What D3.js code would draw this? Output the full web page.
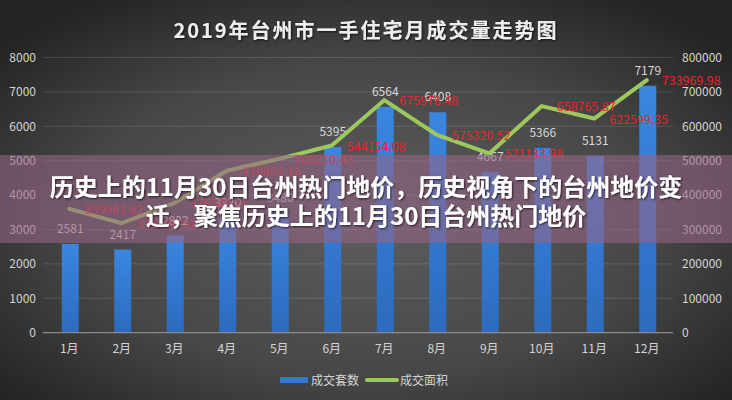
<!DOCTYPE html>
<html>
<head>
<meta charset="utf-8">
<script src="https://cdn.jsdelivr.net/npm/d3@7"></script>
<style>
  html, body { margin: 0; padding: 0; background: #333; }
  svg { display: block; }
  text { font-family: "Noto Sans CJK SC", "Noto Sans", sans-serif; }
</style>
</head>
<body>
<svg id="chart" width="732" height="400"></svg>
<script>
// ---- data ----
const months = ["1月","2月","3月","4月","5月","6月","7月","8月","9月","10月","11月","12月"];
const units = [2581, 2417, 2822, 3320, 3480, 5395, 6564, 6408, 4667, 5366, 5131, 7179];
const areas = [359961.62, 318234.51, 376540.25, 470892.16, 505210.43, 544154.08, 675978.48, 575320.52, 521133.98, 658765.87, 622599.35, 733969.98];
const leftTicks = [0, 1000, 2000, 3000, 4000, 5000, 6000, 7000, 8000];
const rightTicks = [0, 100000, 200000, 300000, 400000, 500000, 600000, 700000, 800000];
const titleText = "2019年台州市一手住宅月成交量走势图";
const seriesNames = ["成交套数", "成交面积"];
const bannerLines = ["历史上的11月30日台州热门地价，历史视角下的台州地价变", "迁，聚焦历史上的11月30日台州热门地价"];

// ---- layout ----
const W = 732, H = 400;
const plot = { left: 43, right: 673, top: 57.5, bottom: 332.7 };

const svg = d3.select("#chart");
const defs = svg.append("defs");

const bg = defs.append("radialGradient").attr("id", "bg")
  .attr("cx", "50%").attr("cy", "55%").attr("r", "65%");
bg.append("stop").attr("offset", "0%").attr("stop-color", "#5d5d5d");
bg.append("stop").attr("offset", "60%").attr("stop-color", "#474747");
bg.append("stop").attr("offset", "100%").attr("stop-color", "#252525");

const barGrad = defs.append("linearGradient").attr("id", "barg")
  .attr("x1", 0).attr("y1", 0).attr("x2", 0).attr("y2", 1);
barGrad.append("stop").attr("offset", "0%").attr("stop-color", "#3a86df");
barGrad.append("stop").attr("offset", "100%").attr("stop-color", "#2c6bbf");

const shadow = defs.append("filter").attr("id", "tshadow")
  .attr("x", "-10%").attr("y", "-30%").attr("width", "120%").attr("height", "160%");
shadow.append("feDropShadow").attr("dx", 1).attr("dy", 1).attr("stdDeviation", 1.2)
  .attr("flood-color", "#000").attr("flood-opacity", 0.7);

svg.append("rect").attr("width", W).attr("height", H).attr("fill", "url(#bg)");

// title
svg.append("text")
  .attr("x", W / 2).attr("y", 38)
  .attr("text-anchor", "middle")
  .attr("font-size", 20).attr("font-weight", "bold")
  .attr("letter-spacing", 2)
  .attr("fill", "#eeeeee")
  .attr("filter", "url(#tshadow)")
  .text(titleText);

// scales
const x = d3.scaleBand().domain(months).range([plot.left, plot.right]).paddingInner(0).paddingOuter(0);
const yL = d3.scaleLinear().domain([0, 8000]).range([plot.bottom, plot.top]);
const yR = d3.scaleLinear().domain([0, 800000]).range([plot.bottom, plot.top]);

// gridlines
svg.append("g").selectAll("line").data(leftTicks.filter(d => d > 0)).join("line")
  .attr("x1", plot.left).attr("x2", plot.right)
  .attr("y1", d => yL(d)).attr("y2", d => yL(d))
  .attr("stroke", "rgba(255,255,255,0.13)").attr("stroke-width", 1);

// left axis
const axL = svg.append("g").attr("transform", `translate(${plot.left - 7},0)`)
  .call(d3.axisLeft(yL).tickValues(leftTicks).tickSize(0).tickPadding(0).tickFormat(d3.format("d")));
axL.select(".domain").remove();
axL.selectAll("text").attr("fill", "#d4d4d4").attr("font-size", 12)
  .style("font-family", "'Noto Sans CJK SC', sans-serif");

// right axis
const axR = svg.append("g").attr("transform", `translate(${plot.right + 9},0)`)
  .call(d3.axisRight(yR).tickValues(rightTicks).tickSize(0).tickPadding(0).tickFormat(d3.format("d")));
axR.select(".domain").remove();
axR.selectAll("text").attr("fill", "#d4d4d4").attr("font-size", 12)
  .style("font-family", "'Noto Sans CJK SC', sans-serif");

// bars
const barW = 17;
svg.append("g").selectAll("rect").data(units).join("rect")
  .attr("x", (d, i) => x(months[i]) + x.bandwidth() / 2 - barW / 2 + 1)
  .attr("y", d => yL(d))
  .attr("width", barW)
  .attr("height", d => yL(0) - yL(d))
  .attr("fill", "url(#barg)");

// baseline
svg.append("line").attr("x1", plot.left).attr("x2", plot.right)
  .attr("y1", yL(0)).attr("y2", yL(0))
  .attr("stroke", "#8a8a8a").attr("stroke-width", 1.2);

// bottom axis labels
const axB = svg.append("g").attr("transform", `translate(0,${plot.bottom + 6})`)
  .call(d3.axisBottom(x).tickSize(0).tickPadding(6));
axB.select(".domain").remove();
axB.selectAll("text").attr("fill", "#d4d4d4").attr("font-size", 12)
  .style("font-family", "'Noto Sans CJK SC', sans-serif");

// bar labels
svg.append("g").selectAll("text").data(units).join("text")
  .attr("x", (d, i) => x(months[i]) + x.bandwidth() / 2 + 1)
  .attr("y", d => yL(d) - 11)
  .attr("text-anchor", "middle")
  .attr("font-size", 12)
  .attr("fill", "#d8d8d8")
  .text(d => d);

// line
const line = d3.line()
  .x((d, i) => x(months[i]) + x.bandwidth() / 2)
  .y(d => yR(d));
svg.append("path").datum(areas)
  .attr("d", line)
  .attr("fill", "none")
  .attr("stroke", "#9cc85c")
  .attr("stroke-width", 4)
  .attr("stroke-linejoin", "round")
  .attr("stroke-linecap", "round");

// line labels
svg.append("g").selectAll("text").data(areas).join("text")
  .attr("x", (d, i) => x(months[i]) + x.bandwidth() / 2 + 15)
  .attr("y", d => yR(d) + 5)
  .attr("font-size", 12.5)
  .attr("fill", "#e8242a")
  .text(d => d3.format(".2f")(d));

// legend
const lg = svg.append("g");
lg.append("rect").attr("x", 280).attr("y", 377).attr("width", 28).attr("height", 6).attr("fill", "#3378cf");
lg.append("text").attr("x", 311).attr("y", 385).attr("font-size", 12).attr("fill", "#d4d4d4").text(seriesNames[0]);
lg.append("line").attr("x1", 367).attr("x2", 397).attr("y1", 380).attr("y2", 380)
  .attr("stroke", "#9cc85c").attr("stroke-width", 4).attr("stroke-linecap", "round");
lg.append("text").attr("x", 400).attr("y", 385).attr("font-size", 12).attr("fill", "#d4d4d4").text(seriesNames[1]);

// banner overlay
svg.append("rect").attr("x", 0).attr("y", 155).attr("width", W).attr("height", 88)
  .attr("fill", "rgba(150,100,135,0.58)");
svg.append("g").selectAll("text").data(bannerLines).join("text")
  .attr("x", W / 2)
  .attr("y", (d, i) => 196 + i * 29)
  .attr("text-anchor", "middle")
  .attr("font-size", 24)
  .attr("font-weight", "bold")
  .attr("fill", "#ffffff")
  .attr("filter", "url(#tshadow)")
  .text(d => d);
</script>
</body>
</html>
